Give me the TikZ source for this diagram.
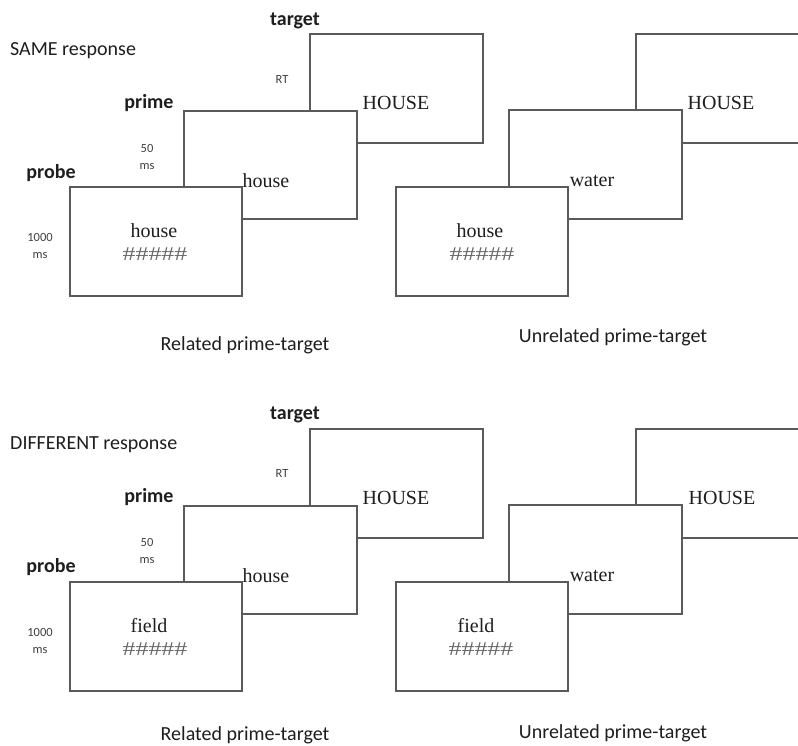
\documentclass[tikz,border=0pt]{standalone}
\usepackage{fontspec}
\setmainfont{Liberation Serif}
\newfontfamily\calibri{Carlito}
\definecolor{linegray}{HTML}{5A5A5A}
\definecolor{ink}{HTML}{1E1E1E}
\definecolor{hashgray}{HTML}{6A6A6A}
\begin{document}
\begin{tikzpicture}[x=1pt,y=-1pt,
  screen/.style={draw=linegray, fill=white, line width=1.3pt},
  steplbl/.style={font=\calibri\fontsize{20}{24}\selectfont\bfseries, text=ink, inner sep=0pt},
  resp/.style={font=\calibri\fontsize{20}{24}\selectfont, text=ink, inner sep=0pt, anchor=west},
  cond/.style={font=\calibri\fontsize{20}{24}\selectfont, text=ink, inner sep=0pt},
  timing/.style={font=\calibri\fontsize{12.5}{17}\selectfont, text=ink!85, inner sep=0pt, align=center},
  word/.style={font=\fontsize{20}{22}\selectfont, text=ink, inner sep=0pt},
  hashes/.style={font=\fontsize{19.5}{22}\selectfont, text=hashgray, inner sep=0pt}
]
\useasboundingbox (0,0) rectangle (798,746);
\clip (0,0) rectangle (798,746);
\fill[white] (0,0) rectangle (798,746);

% ===== Top panel: SAME response =====
\filldraw[screen] (310,34) rectangle (483,143);
\filldraw[screen] (184,111) rectangle (357,219);
\filldraw[screen] (70,187) rectangle (242,296);
\filldraw[screen] (636,34) rectangle (830,143);
\filldraw[screen] (509,110) rectangle (682,219);
\filldraw[screen] (396,187) rectangle (568,296);

\node[steplbl] (targetA) at (295,21) {target};
\node[resp] (respA) at (10,51) {SAME response};
\node[timing] (rtA) at (282,79) {RT};
\node[steplbl] (primeA) at (149,103) {prime};
\node[timing] (fiftyA) at (147,157) {50\\ms};
\node[steplbl] (probeA) at (51,173) {probe};
\node[timing] (thousandA) at (40,246) {1000\\ms};

\node[word] (houseTA) at (396,103) {HOUSE};
\node[word] (housePA) at (266,181) {house};
\node[word] (houseRA) at (154,231) {house};
\node[hashes] (hashA) at (155,254) {\scalebox{1.33}[1]{\#\#\#\#\#}};
\node[word] (houseTB) at (721,103) {HOUSE};
\node[word] (waterA) at (592,181) {water};
\node[word] (houseRB) at (480,231) {house};
\node[hashes] (hashB) at (482,254) {\scalebox{1.33}[1]{\#\#\#\#\#}};

\node[cond] (relA) at (245,345) {Related prime-target};
\node[cond] (unrelA) at (613,337) {Unrelated prime-target};

% ===== Bottom panel: DIFFERENT response =====
\begin{scope}[yshift=-395pt]
\filldraw[screen] (310,34) rectangle (483,143);
\filldraw[screen] (184,111) rectangle (357,219);
\filldraw[screen] (70,187) rectangle (242,296);
\filldraw[screen] (636,34) rectangle (830,143);
\filldraw[screen] (509,110) rectangle (682,219);
\filldraw[screen] (396,187) rectangle (568,296);

\node[steplbl] (targetB) at (295,20) {target};
\node[resp] (respB) at (10,50) {DIFFERENT response};
\node[timing] (rtB) at (282,78) {RT};
\node[steplbl] (primeB) at (149,102) {prime};
\node[timing] (fiftyB) at (147,156) {50\\ms};
\node[steplbl] (probeB) at (51,172) {probe};
\node[timing] (thousandB) at (40,246) {1000\\ms};

\node[word] (houseTC) at (396,103) {HOUSE};
\node[word] (housePB) at (266,181) {house};
\node[word] (fieldA) at (149,231) {field};
\node[hashes] (hashC) at (155,254) {\scalebox{1.33}[1]{\#\#\#\#\#}};
\node[word] (houseTD) at (722,103) {HOUSE};
\node[word] (waterB) at (592,181) {water};
\node[word] (fieldB) at (476,231) {field};
\node[hashes] (hashD) at (481,254) {\scalebox{1.33}[1]{\#\#\#\#\#}};

\node[cond] (relB) at (245,340) {Related prime-target};
\node[cond] (unrelB) at (613,338) {Unrelated prime-target};
\end{scope}
\end{tikzpicture}
\end{document}
